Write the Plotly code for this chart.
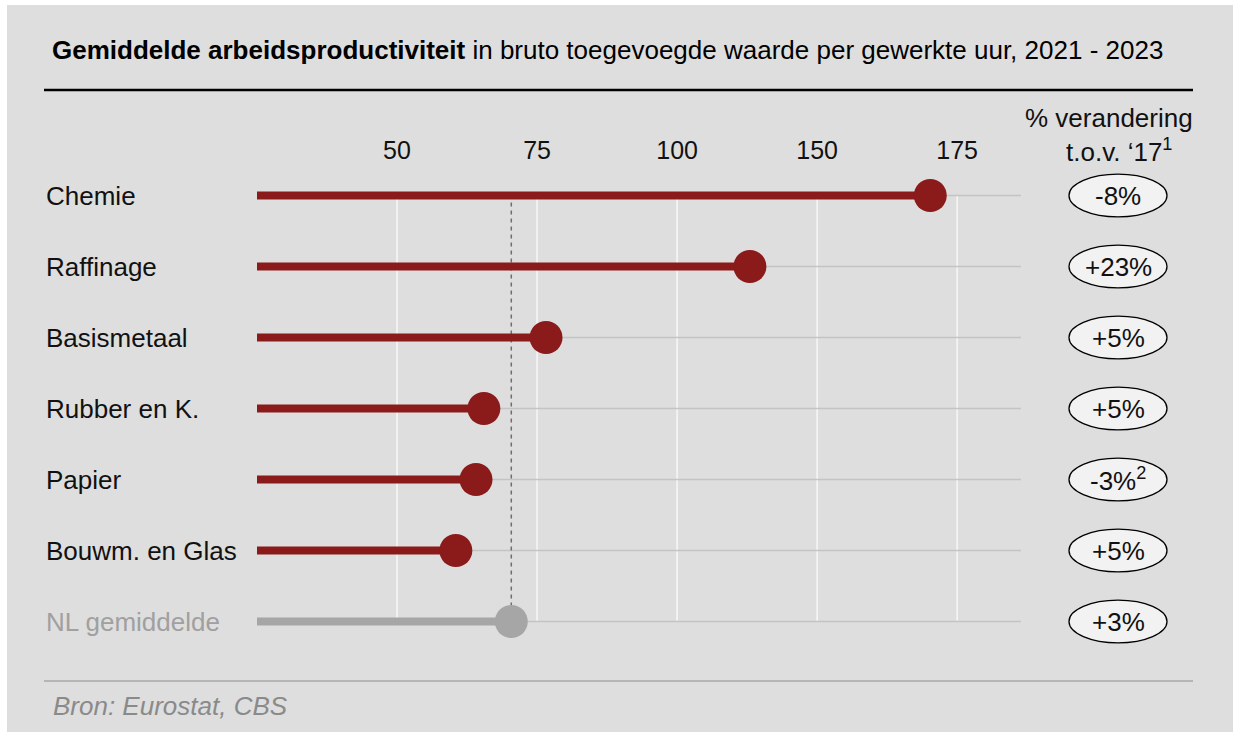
import plotly.graph_objects as go

# ---------------- data ----------------
categories = ["Chemie", "Raffinage", "Basismetaal", "Rubber en K.", "Papier",
              "Bouwm. en Glas", "NL gemiddelde"]
productivity = [145.2, 113.0, 76.6, 65.5, 64.1, 60.5, 70.4]
change_labels = ["-8%", "+23%", "+5%", "+5%", "-3%<sup>2</sup>", "+5%", "+3%"]
tick_values = [50, 75, 100, 125, 150]
tick_labels = ["50", "75", "100", "150", "175"]
axis_start = 25
axis_end = 161.4
nl_index = categories.index("NL gemiddelde")
nl_value = productivity[nl_index]

# ---------------- layout geometry ----------------
OFF = 8                      # page body margin
W, H = 1233 - OFF, 732 - OFF
ML, MR, MT, MB = 257 - OFF, 212, 160 - OFF, 75
PW = W - ML - MR
PH = H - MT - MB
FONT = "Liberation Sans, Arial, sans-serif"
RED = "#8b1a1a"
GREY_DOT = "#a6a6a6"
BG = "#dedede"


def px(x):
    """page x (reference pixel) -> paper fraction"""
    return (x - OFF - ML) / PW


def py(y):
    """page y (reference pixel) -> paper fraction"""
    return (H - MB - (y - OFF)) / PH


rows = list(range(len(categories)))

fig = go.Figure()

shapes = []
# vertical gridlines (white) between first and last row
for tv in tick_values:
    shapes.append(dict(type="line", xref="x", yref="y", x0=tv, x1=tv, y0=rows[0], y1=rows[-1],
                       line=dict(color="#f7f7f7", width=1.5), layer="below"))
# horizontal gridlines
for r in rows:
    shapes.append(dict(type="line", xref="x", yref="y", x0=axis_start, x1=axis_end, y0=r, y1=r,
                       line=dict(color="#c4c4c4", width=1.5), layer="below"))
# dashed NL average line
shapes.append(dict(type="line", xref="x", yref="y", x0=nl_value, x1=nl_value, y0=rows[0] + 0.1,
                   y1=rows[-1], line=dict(color="#6e6e6e", width=1.5, dash="4px,4px"), layer="below"))
# title rule and bottom rule
shapes.append(dict(type="line", xref="paper", yref="paper", x0=px(44), x1=px(1193), y0=py(90), y1=py(90),
                   line=dict(color="black", width=2.5)))
shapes.append(dict(type="line", xref="paper", yref="paper", x0=px(44), x1=px(1193), y0=py(681), y1=py(681),
                   line=dict(color="#8c8c8c", width=1.2)))
# ellipses for % change
for r in rows:
    shapes.append(dict(type="circle", xref="paper", yref="y", x0=px(1069), x1=px(1167),
                       y0=r - 0.30, y1=r + 0.30, fillcolor="#f2f2f2",
                       line=dict(color="black", width=1.3)))

# lollipop stems and dots
for r, (cat, val) in enumerate(zip(categories, productivity)):
    col = GREY_DOT if cat == "NL gemiddelde" else RED
    fig.add_trace(go.Scatter(x=[axis_start, val], y=[r, r], mode="lines",
                             line=dict(color=col, width=8), hoverinfo="skip", showlegend=False))
for r, (cat, val) in enumerate(zip(categories, productivity)):
    col = GREY_DOT if cat == "NL gemiddelde" else RED
    fig.add_trace(go.Scatter(x=[val], y=[r], mode="markers",
                             marker=dict(color=col, size=33, line=dict(width=0)),
                             name=cat, showlegend=False))

annotations = []
annotations.append(dict(xref="paper", yref="paper", x=px(50), y=py(50), xanchor="left", yanchor="middle",
                        showarrow=False,
                        text="<b>Gemiddelde arbeidsproductiviteit</b> in bruto toegevoegde waarde per gewerkte uur, 2021 - 2023",
                        font=dict(family=FONT, size=26, color="black")))
annotations.append(dict(xref="paper", yref="paper", x=px(1109), y=py(118), xanchor="center", yanchor="middle",
                        showarrow=False, text="% verandering",
                        font=dict(family=FONT, size=26, color="#111111")))
annotations.append(dict(xref="paper", yref="paper", x=px(1119), y=py(150), xanchor="center", yanchor="middle",
                        showarrow=False, text="t.o.v. \u201817<sup>1</sup>",
                        font=dict(family=FONT, size=26, color="#111111")))
for r, cat in enumerate(categories):
    annotations.append(dict(xref="paper", yref="y", x=px(44), y=r, xanchor="left", yanchor="middle",
                            showarrow=False, text=cat,
                            font=dict(family=FONT, size=26,
                                      color="#a0a0a0" if cat == "NL gemiddelde" else "#111111")))
for r, lab in enumerate(change_labels):
    annotations.append(dict(xref="paper", yref="y", x=px(1118), y=r, xanchor="center", yanchor="middle",
                            showarrow=False, text=lab,
                            font=dict(family=FONT, size=26, color="#111111")))
annotations.append(dict(xref="paper", yref="paper", x=px(51), y=py(706), xanchor="left", yanchor="middle",
                        showarrow=False, text="<i>Bron: Eurostat, CBS</i>",
                        font=dict(family=FONT, size=26, color="#8a8a8a")))

fig.update_layout(
    width=W, height=H,
    margin=dict(l=ML, r=MR, t=MT, b=MB, pad=0),
    paper_bgcolor=BG,
    plot_bgcolor="rgba(0,0,0,0)",
    shapes=shapes,
    annotations=annotations,
    xaxis=dict(range=[axis_start, axis_end], side="top", tickvals=tick_values, ticktext=tick_labels,
               showgrid=False, zeroline=False, showline=False, ticks="",
               ticklabelstandoff=-5,
               tickfont=dict(family=FONT, size=25, color="#111111"), fixedrange=True),
    yaxis=dict(range=[len(categories) - 0.5, -0.5], showgrid=False, zeroline=False, showline=False,
               showticklabels=False, ticks="", fixedrange=True),
    hovermode="closest",
)

page_bg = ("linear-gradient(#ffffff,#ffffff) 0 0/100% 5px no-repeat, "
           "linear-gradient(#ffffff,#ffffff) 0 0/7px 100% no-repeat, " + BG)
fig.write_html(
    "out.html",
    post_script="document.documentElement.style.overflow='hidden';"
                "document.documentElement.style.background='" + page_bg + "';",
)
